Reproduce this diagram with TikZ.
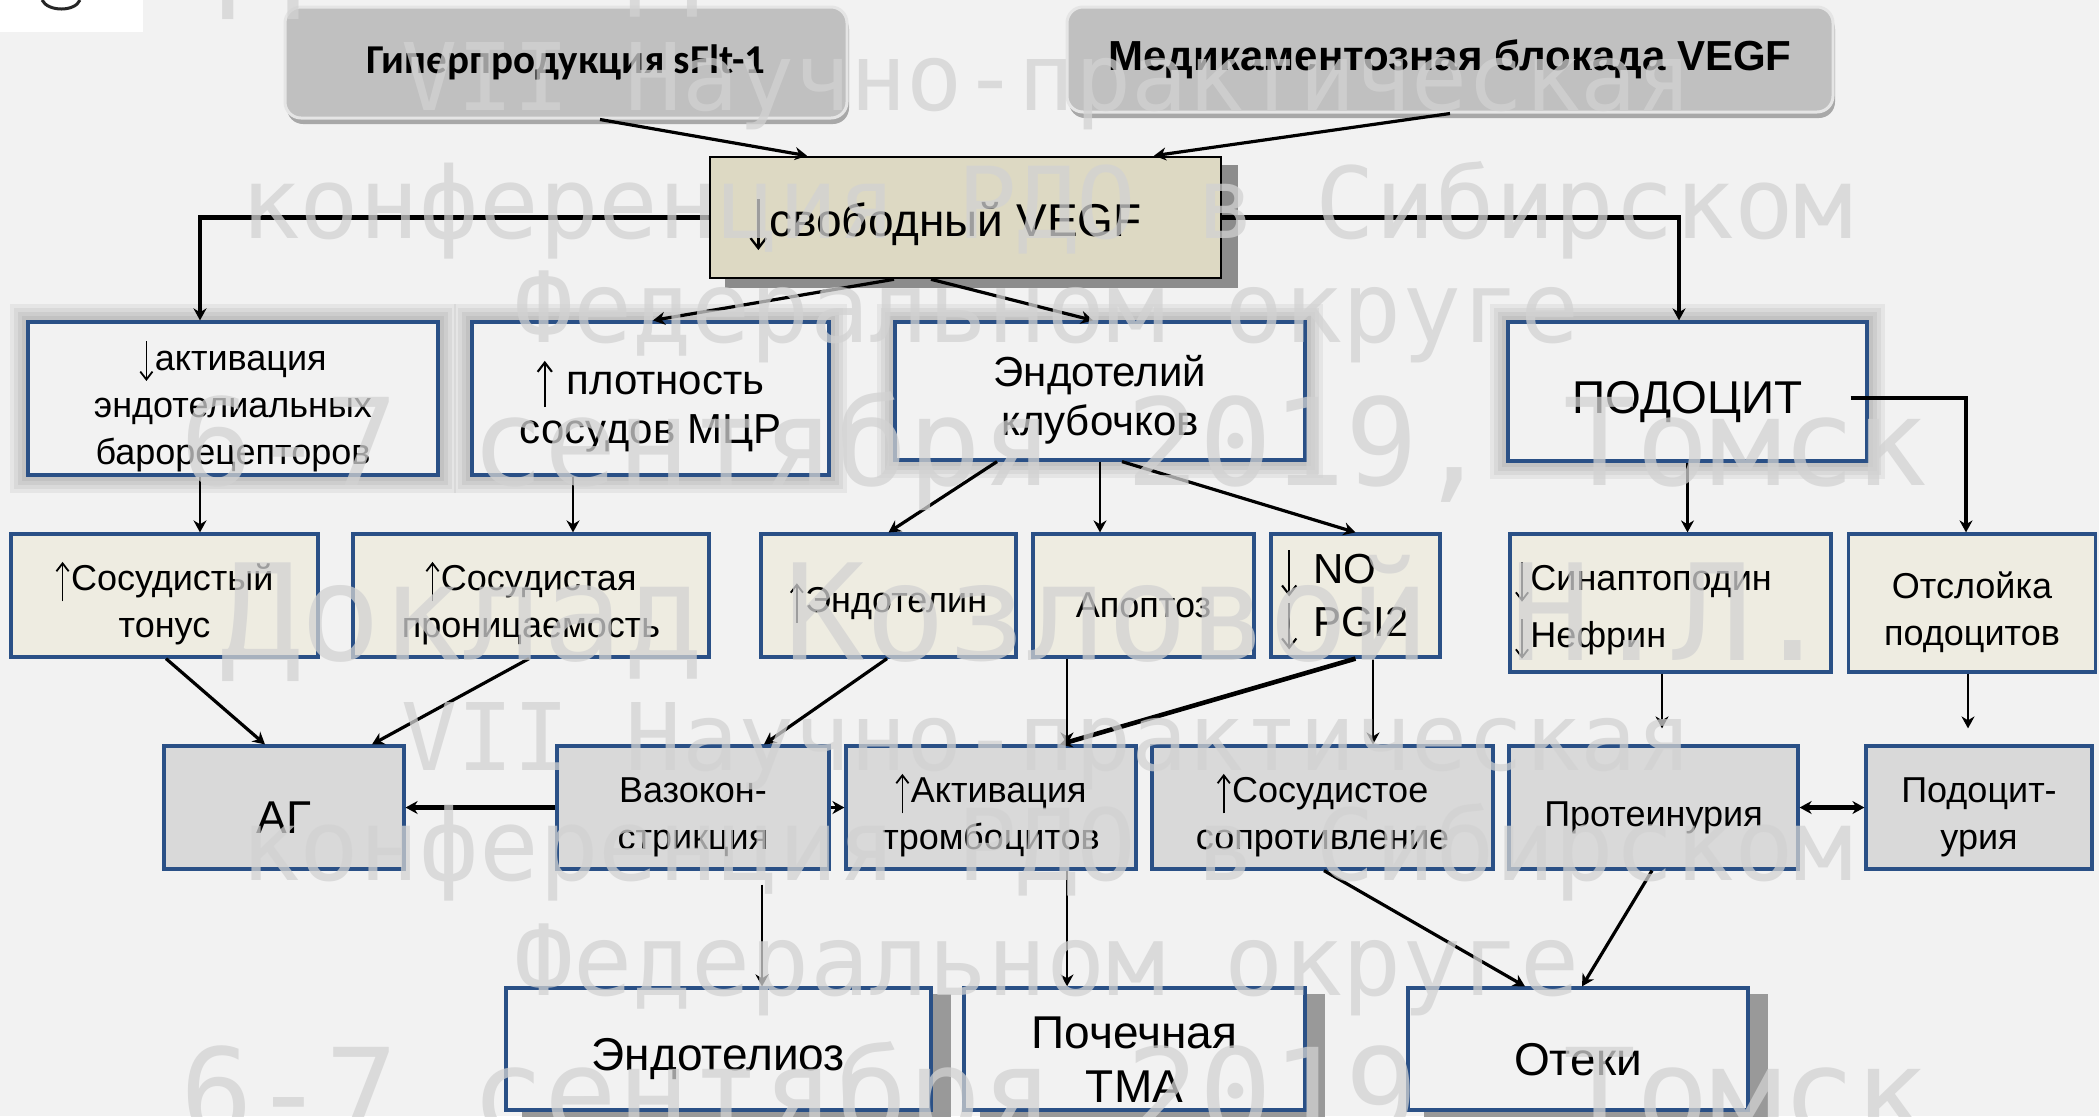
\documentclass[tikz,border=0pt]{standalone}
\usepackage{fontspec}
\usepackage{graphicx}
\setmainfont{Liberation Sans}
\newfontfamily\wmfont{DejaVu Sans Mono}
\newfontfamily\calfont{Carlito}
\usetikzlibrary{arrows.meta,calc,shadows,backgrounds}
\definecolor{bgc}{HTML}{F2F2F2}
\definecolor{bluebd}{HTML}{2A5086}
\definecolor{beige}{HTML}{EEECE1}
\definecolor{tanc}{HTML}{DDD9C3}
\definecolor{boxgray}{HTML}{D9D9D9}
\definecolor{topgray}{HTML}{C0C0C0}
\definecolor{wmc}{HTML}{D2D2D2}
\newcommand\dnar{\tikz[baseline=0pt]\draw[draw=black,fill=none,line width=0.05em,-{Straight Barb[length=0.22em,width=0.34em]}] (0,0.8em) -- (0,-0.3em);\hspace{0.04em}}
\newcommand\upar{\tikz[baseline=0pt]\draw[draw=black,fill=none,line width=0.05em,-{Straight Barb[length=0.22em,width=0.34em]}] (0,-0.3em) -- (0,0.8em);\hspace{0.04em}}
\newcommand\sh{\rule{0pt}{\dimexpr0.8em+8pt\relax}}
\begin{document}
\begin{tikzpicture}[x=0.5pt,y=-0.5pt,
  box/.style={draw=bluebd,line width=1.6pt,inner sep=1pt,align=center},
  wbox/.style={box,fill=bgc},
  bbox/.style={box,fill=beige},
  gbox/.style={box,fill=boxgray},
  topbox/.style={draw=white!90!black,line width=1.5pt,fill=topgray,rounded corners=8pt,
     drop shadow={shadow xshift=1pt,shadow yshift=-3pt,opacity=0.3,fill=black}},
  fA/.style={font=\fontsize{18}{23.5}\selectfont},
  fB/.style={font=\fontsize{21}{24.5}\selectfont},
  fC/.style={font=\fontsize{23}{27}\selectfont},
  arr/.style={-{Stealth[length=6pt,width=6.5pt]},line width=1.1pt},
  arrm/.style={arr,line width=1.6pt},
  arrt/.style={arr,line width=2.3pt},
  wm/.style={anchor=base,inner sep=0pt,text=wmc,text opacity=0.75}]
\useasboundingbox (0,0) rectangle (2099,1116);
\begin{scope}[on background layer]
\fill[bgc] (0,0) rectangle (2099,1116);
\end{scope}
% logo fragment
\fill[white] (0,0) rectangle (143,32);
\draw[line width=1.5pt,black!85] (42,0) .. controls (48,12) and (75,12) .. (80,0);

% top
\node[topbox,font=\calfont\bfseries\fontsize{20.5}{24}\selectfont,minimum width=281pt,minimum height=55.5pt] (hyp) at (566,62.5) {Гиперпродукция sFlt-1};
\node[topbox,font=\bfseries\fontsize{21}{24}\selectfont,minimum width=383pt,minimum height=52.5pt] (med) at (1450,59.5) {Медикаментозная блокада VEGF};
\node[draw=black,line width=1.3pt,fill=tanc,minimum width=255.5pt,minimum height=60.5pt,fC] (free) at (965.5,217.5) {\sh\dnar свободный VEGF\hspace*{20pt}};

% row 2
\node[wbox,fA,minimum width=205pt,minimum height=76.5pt] (akt) at (233,398.5) {\sh\dnar активация\\эндотелиальных\\барорецепторов};
\node[wbox,fB,minimum width=178.5pt,minimum height=76.5pt] (plot) at (650.5,398.5) {\sh\upar\ плотность\\сосудов МЦР};
\node[wbox,fB,minimum width=205pt,minimum height=69pt] (endo) at (1100,391) {\sh Эндотелий\\клубочков};
\node[wbox,fC,minimum width=179.5pt,minimum height=69.5pt] (podo) at (1687.5,391.5) {\sh ПОДОЦИТ};

% row 3
\node[bbox,fA,minimum width=153.5pt,minimum height=61.5pt] (ton) at (164.5,595.5) {\sh\upar Сосудистый\\тонус};
\node[bbox,fA,minimum width=178pt,minimum height=61.5pt] (pron) at (531,595.5) {\sh\upar Сосудистая\\проницаемость};
\node[bbox,fA,minimum width=127.5pt,minimum height=61.5pt] (endt) at (888.5,595.5) {\sh\upar Эндотелин};
\node[bbox,fA,minimum width=110.5pt,minimum height=61.5pt] (apop) at (1143.5,595.5) {\sh Апоптоз};
\node[bbox,font=\fontsize{21}{26.5}\selectfont,align=left,text width=74.5pt,inner xsep=5pt,minimum height=61.5pt] (no) at (1355.5,595.5) {\rule{0pt}{\dimexpr0.8em+5pt\relax}\dnar\ NO\\\dnar\ PGI2};
\node[bbox,font=\fontsize{18}{28.5}\selectfont,align=left,text width=155.5pt,inner xsep=2.5pt,minimum height=69pt] (sin) at (1670.5,603) {\sh\dnar Синаптоподин\\\dnar Нефрин};
\node[bbox,fA,minimum width=123.5pt,minimum height=69pt] (otsl) at (1972,603) {\sh Отслойка\\подоцитов};

% row 4
\node[gbox,fC,minimum width=120pt,minimum height=61.5pt] (ag) at (284,807.5) {\sh АГ};
\node[gbox,fA,minimum width=136pt,minimum height=61.5pt] (vazo) at (693,807.5) {\sh Вазокон-\\стрикция};
\node[gbox,fA,minimum width=145pt,minimum height=61.5pt] (akti) at (991,807.5) {\sh\upar Активация\\тромбоцитов};
\node[gbox,fA,minimum width=170.5pt,minimum height=61.5pt] (sopr) at (1322.5,807.5) {\sh\upar Сосудистое\\сопротивление};
\node[gbox,fA,minimum width=144.5pt,minimum height=61.5pt] (prot) at (1653.5,807.5) {\sh Протеинурия};
\node[gbox,fA,minimum width=113pt,minimum height=61.5pt] (podu) at (1979,807.5) {\sh Подоцит-\\урия};

% row 5
\node[wbox,fC,minimum width=212.5pt,minimum height=61pt] (endz) at (718.5,1049) {\sh Эндотелиоз};
\node[wbox,fC,minimum width=170.5pt,minimum height=61pt] (tma) at (1134.5,1049) {\sh Почечная\\ТМА};
\node[wbox,fC,minimum width=170pt,minimum height=61pt] (otek) at (1578,1049) {\sh Отеки};

% shadows / glows
\begin{scope}[on background layer]
\foreach \n in {akt,plot,endo,podo}{
  \foreach \d in {8,6,4,2}{
    \fill[black,opacity=0.05] ([shift={(-\d pt,-\d pt)}]\n.south west) rectangle ([shift={(\d pt,\d pt)}]\n.north east);
  }}
\fill[black!45] ([shift={(8pt,-4.5pt)}]free.south west) rectangle ([shift={(8pt,-4.5pt)}]free.north east);
\foreach \n in {endz,tma,otek}{
  \fill[black!40] ([shift={(9pt,-4pt)}]\n.south west) rectangle ([shift={(9pt,-4pt)}]\n.north east);
}
\end{scope}

% connectors
\draw[arrm] ([xshift=17pt]hyp.south) -- ([xshift=-79.25pt]free.north);
\draw[arrm] (med.south) -- ([xshift=94.25pt]free.north);
\draw[arrt] (free.west) -| ([xshift=-16.5pt]akt.north);
\draw[arrt] (free.east) -| ([xshift=-4.25pt]podo.north);
\draw[arrm] ([xshift=-35.75pt]free.south) -- ([xshift=1.25pt]plot.north);
\draw[arrm] ([xshift=-17.25pt]free.south) -- ([xshift=-3.5pt]endo.north);
\draw[arrm] ([xshift=-9pt,yshift=-3.25pt]podo.east) -| ([xshift=-3pt]otsl.north);
\draw[arr] (podo.south) -- (podo.south |- sin.north);
\draw[arr] ([xshift=-16.5pt]akt.south) -- ([xshift=-16.5pt]akt.south |- ton.north);
\draw[arr] ([xshift=-38.75pt]plot.south) -- ([xshift=-38.75pt]plot.south |- pron.north);
\draw[arrm] ([xshift=-51.5pt]endo.south) -- (endt.north);
\draw[arr] (endo.south) -- (endo.south |- apop.north);
\draw[arrm] ([xshift=11pt]endo.south) -- (no.north);
\draw[arrm] ([xshift=0.75pt]ton.south) -- ([xshift=-9.5pt]ag.north);
\draw[arrm] ([xshift=-1pt]pron.south) -- ([xshift=44pt]ag.north);
\draw[arrm] ([xshift=-0.75pt]endt.south) -- ([xshift=35.5pt]vazo.north);
\draw[arrt] (vazo.west) -- (ag.east);
\draw[arr] (vazo.east) -- (akti.west);
\draw[arr] ([xshift=-38.25pt]apop.south) -- ([xshift=-38.25pt]apop.south |- akti.north);
\draw[arrt] (no.south) -- ([xshift=34.5pt]akti.north);
\draw[arr] ([xshift=8.75pt]no.south) -- ([xshift=8.75pt]no.south |- sopr.north);
\draw[arr,shorten >=8pt] ([xshift=-4.25pt]sin.south) -- ([xshift=-4.25pt]sin.south |- prot.north);
\draw[arr,shorten >=8pt] ([xshift=-2pt]otsl.south) -- ([xshift=-2pt]otsl.south |- podu.north);
\draw[{Stealth[length=6pt,width=6.5pt]}-{Stealth[length=6pt,width=6.5pt]},line width=2.2pt] (prot.east) -- (podu.west);
\draw[arr,shorten <=7pt] ([xshift=34.5pt]vazo.south) -- ([xshift=34.5pt]vazo.south |- endz.north);
\draw[arr] ([xshift=38pt]akti.south) -- ([xshift=38pt]akti.south |- tma.north);
\draw[arrm] ([xshift=0.75pt]sopr.south) -- ([xshift=-26.5pt]otek.north);
\draw[arrm] ([xshift=-0.75pt]prot.south) -- ([xshift=2pt]otek.north);

% watermark
\begin{scope}
\clip (0,0) rectangle (2099,1116);
\node[wm] (wm0) at (1027,-2) {\resizebox{806.5pt}{!}{\wmfont Доклад Козловой Н.Л.}};
\node[wm] (wm1) at (1047,110) {\resizebox{645.5pt}{!}{\wmfont VII Научно-практическая}};
\node[wm] (wm2) at (1047,238) {\resizebox{806.5pt}{!}{\wmfont конференция РДО в Сибирском}};
\node[wm] (wm3) at (1047,342) {\resizebox{532.5pt}{!}{\wmfont Федеральном округе}};
\node[wm] (wm4) at (1054,485) {\resizebox{873.5pt}{!}{\wmfont 6-7 сентября 2019, Томск}};
\node[wm] (wm5) at (1027,660) {\resizebox{806.5pt}{!}{\wmfont Доклад Козловой Н.Л.}};
\node[wm] (wm6) at (1047,770) {\resizebox{645.5pt}{!}{\wmfont VII Научно-практическая}};
\node[wm] (wm7) at (1047,880) {\resizebox{806.5pt}{!}{\wmfont конференция РДО в Сибирском}};
\node[wm] (wm8) at (1047,995) {\resizebox{532.5pt}{!}{\wmfont Федеральном округе}};
\node[wm] (wm9) at (1054,1135) {\resizebox{873.5pt}{!}{\wmfont 6-7 сентября 2019, Томск}};
\end{scope}
\end{tikzpicture}
\end{document}
